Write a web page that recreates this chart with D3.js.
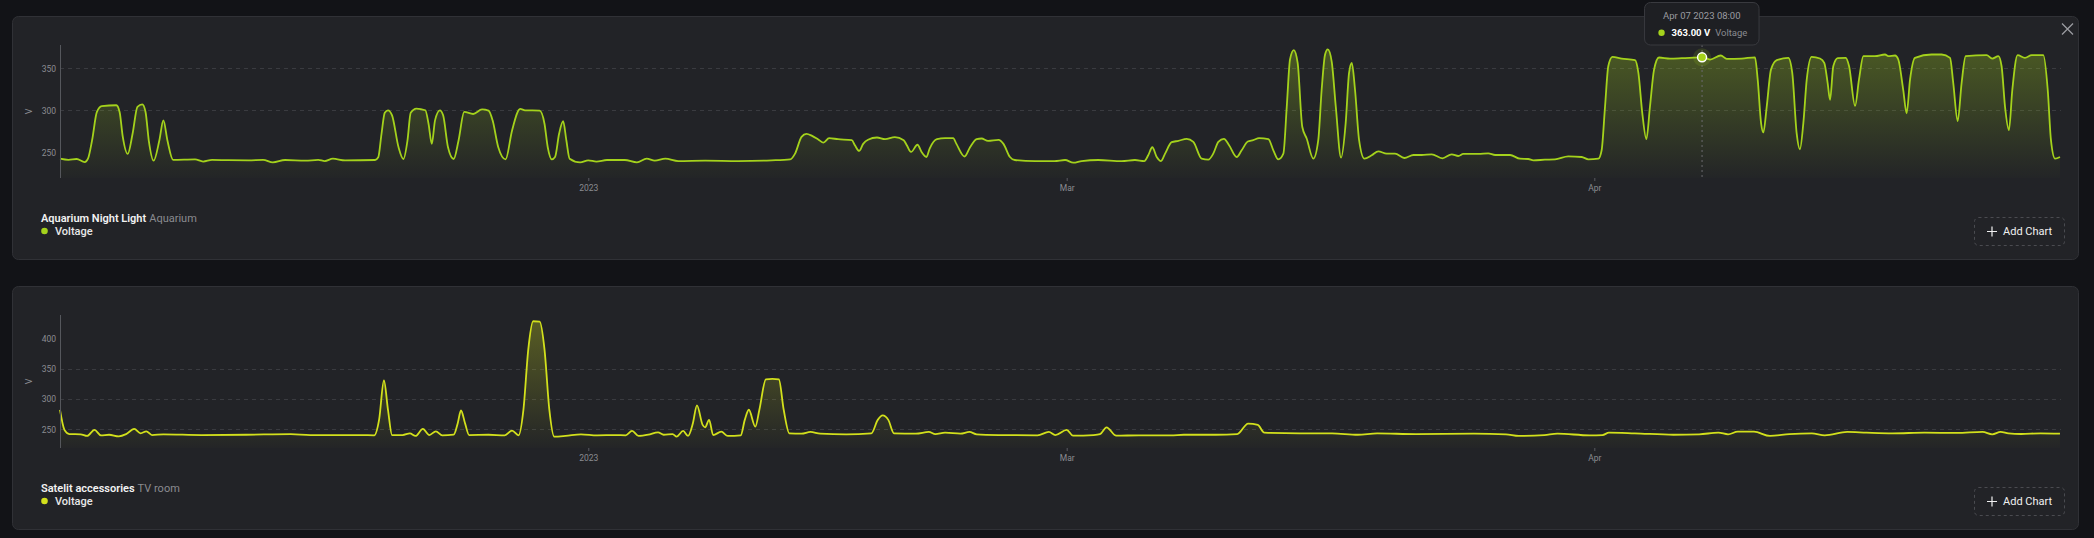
<!DOCTYPE html>
<html>
<head>
<meta charset="utf-8">
<script src="https://cdn.jsdelivr.net/npm/d3@7"></script>
<style>
  html, body { margin: 0; padding: 0; background: #121317; }
  svg { display: block; font-family: Roboto, "Noto Sans", sans-serif; }
</style>
</head>
<body>
<svg id="chart" width="2094" height="538"></svg>
<script>
// ---- DATA (x = days from 2023-01-01, y = volts) ----
const aquariumSeries = [[-65.15,242.4],[-64.1,241],[-63.1,242],[-62.1,238.4],[-61.7,242.4],[-61.2,264],[-60.6,298],[-60.0,305],[-58.2,306],[-57.8,298],[-57.4,268],[-56.8,248],[-56.2,272],[-55.6,304],[-55.0,307],[-54.6,298],[-54.2,264],[-53.6,240],[-52.9,264],[-52.4,288],[-51.9,264],[-51.2,241],[-48.5,241.6],[-47.5,239],[-46.4,241],[-44.4,240.6],[-41.9,240.4],[-40.1,241],[-38.9,238],[-37.4,240.8],[-34.9,240],[-33.3,241],[-32.5,239.6],[-31.5,242.4],[-30.0,240.4],[-26.3,240.8],[-25.9,244],[-25.5,272],[-25.1,297],[-24.7,300],[-24.2,294],[-23.4,256],[-22.8,242],[-22.3,264],[-21.9,297],[-21.2,302],[-20.1,300],[-19.7,284],[-19.3,260],[-18.9,288],[-18.3,300],[-17.9,294],[-17.3,256],[-16.6,242],[-16.0,264],[-15.3,298],[-14.2,295.6],[-13.1,301],[-12.3,299.6],[-11.8,288],[-11.1,256],[-10.2,241.6],[-9.4,276],[-8.4,301.6],[-7.8,300],[-6.0,299.6],[-5.4,284],[-5.0,256],[-4.5,241.6],[-4.1,244.4],[-3.6,272],[-3.1,287],[-2.7,264],[-2.3,242.4],[-1.0,238],[0.0,240.4],[1.0,239],[2.3,240.8],[4.5,240.8],[6.0,238],[7.2,242.4],[8.2,240],[9.5,242.4],[11.1,239.6],[14.4,240],[18.5,239.6],[22.6,240.4],[24.9,241.6],[25.5,248.4],[26.3,268.4],[26.9,272],[27.6,269.6],[28.4,265],[29.0,261.6],[29.7,266.8],[30.8,265.6],[32.5,264.4],[32.9,258],[33.4,251.6],[33.9,260],[34.5,265],[35.6,267.6],[36.6,265.6],[37.8,268],[38.9,264.4],[39.3,258],[39.8,250.4],[40.6,259],[41.1,250.4],[41.7,244.4],[42.1,254.4],[43.0,265.6],[44.0,266.8],[45.0,266.8],[45.4,260],[46.4,245],[47.1,256.4],[47.9,265.6],[48.5,266.4],[49.3,263.6],[50.6,264.8],[51.2,260],[52.0,244.4],[52.6,240.8],[55.1,239.6],[57.5,239.6],[58.8,240.8],[59.39,237.6],[59.88,239.6],[60.86,240.8],[62.23,239.6],[63.01,240.8],[63.56,239.6],[63.79,246.4],[64.03,256],[64.29,244.4],[64.54,239.6],[64.78,248.4],[65.17,262],[65.56,263.6],[66.05,266],[66.44,262.4],[66.93,242.4],[67.32,241.2],[67.61,248.4],[67.91,262.4],[68.24,266],[68.54,258.4],[68.99,244.4],[69.28,252.4],[69.64,262.8],[69.96,264.4],[70.30,266.8],[70.85,265.6],[71.14,252.4],[71.43,241.6],[71.73,248.4],[71.93,304.4],[72.12,360.4],[72.34,371.6],[72.57,356.4],[72.84,280.4],[73.10,266.4],[73.49,242.4],[73.78,264.4],[73.98,324.4],[74.18,366.4],[74.34,372.4],[74.57,358],[74.81,304.4],[75.12,243.6],[75.39,284.4],[75.59,344.4],[75.75,356.4],[75.94,324.4],[76.18,264.4],[76.49,242.4],[76.92,246.4],[77.31,251.2],[77.80,248.4],[78.29,248.4],[78.84,243.2],[79.37,246.8],[79.86,246.8],[80.45,247.6],[81.07,242.8],[81.62,247.6],[82.01,245.6],[82.30,248],[83.19,248],[83.77,248.8],[84.17,246.8],[85.05,246.8],[85.63,242.4],[86.12,242],[86.42,240.4],[87.10,241.2],[87.69,241.6],[88.47,245.2],[89.26,244.4],[89.65,241.6],[90.24,242.4],[90.43,252.4],[90.63,304.4],[90.82,352.4],[91.06,363.6],[91.61,361.6],[92.39,359.6],[92.59,344.4],[92.82,296.4],[93.06,265.6],[93.27,304.4],[93.51,348.4],[93.80,362.8],[94.45,361.6],[95.14,362],[96.33,363],[96.80,360.4],[97.43,365.2],[97.78,361.2],[98.66,361.6],[99.44,363],[99.60,336.4],[99.80,284.4],[99.93,273.6],[100.13,304.4],[100.38,348.4],[100.72,359.6],[101.40,362.4],[101.63,344.4],[101.89,272.4],[102.08,253.6],[102.28,284.4],[102.48,336.4],[102.77,363.6],[103.26,361.6],[103.51,356.4],[103.71,332.4],[103.85,312.4],[104.04,352.4],[104.30,362],[104.77,362.4],[104.97,352.4],[105.32,305.2],[105.55,336.4],[105.81,364.4],[106.49,364.4],[107.08,366.4],[107.27,364.4],[107.67,365.2],[107.86,360.4],[108.15,324.4],[108.35,296.4],[108.55,336.4],[108.84,362.4],[109.82,366.4],[110.41,366.4],[110.90,362.4],[111.09,332.4],[111.35,287.2],[111.58,332.4],[111.82,364.4],[113.05,365.6],[113.38,361.6],[113.74,364.4],[113.93,352.4],[114.13,304.4],[114.36,276.4],[114.56,324.4],[114.87,365.6],[115.30,362.4],[115.70,365.6],[116.38,365.6],[116.64,324.4],[116.83,264.4],[117.07,242.4],[117.36,244.4]];

const satelliteSeries = [[-65.15,282],[-64.6,249],[-64.0,242],[-62.6,241.7],[-61.8,239],[-60.9,249],[-60.1,240],[-59.1,241],[-57.9,238.3],[-57.0,242],[-56.0,250.5],[-55.2,243.3],[-54.5,246.7],[-53.8,240.5],[-52.4,241.7],[-47.7,240.5],[-42.2,241],[-36.7,242],[-34.3,240.5],[-28.0,240.5],[-26.4,240],[-25.8,265.5],[-25.2,330.5],[-24.7,282],[-24.2,240.5],[-22.9,240.5],[-22.0,243.3],[-21.3,239],[-20.4,250.5],[-19.6,240.5],[-18.8,246.7],[-18.0,240],[-16.6,241],[-16.1,260],[-15.7,281],[-15.2,260],[-14.7,240.5],[-12.3,241],[-10.3,240],[-9.4,247.8],[-8.6,240],[-8.0,282],[-7.4,382],[-6.8,428.3],[-6.0,427.8],[-5.4,382],[-4.8,282],[-4.2,237.8],[-2.8,239],[-0.9,241.7],[1.1,240],[3.4,240.5],[4.6,240],[5.4,247.2],[6.2,239],[7.4,241],[8.6,245],[9.3,241],[10.4,242],[10.9,237.8],[11.7,247.2],[12.3,239],[12.9,260],[13.4,289.4],[14.1,257.2],[14.4,253.3],[14.9,265.5],[15.4,240.5],[16.4,246],[17.2,239],[18.8,240],[19.3,265.5],[19.8,282.2],[20.6,254.4],[21.1,282.2],[21.9,332.2],[22.7,333.3],[23.5,332.2],[24.1,282.2],[24.8,243.3],[26.3,242.8],[27.4,245.6],[28.6,242.8],[31.8,241.7],[34.9,243.3],[35.7,265.5],[36.3,272.8],[37.0,265.5],[37.7,243.3],[40.4,242.8],[42.0,245.6],[42.8,242],[44.0,244.4],[45.9,242.8],[47.0,245.6],[47.9,241.7],[50.6,240.5],[55.4,240],[56.8,245.6],[57.6,240.5],[59.0,249],[59.37,239.4],[60.58,240.5],[60.96,242],[61.34,253.3],[61.91,239.4],[63.23,240],[65.12,240],[65.88,241],[67.77,241],[69.02,242],[69.66,259.4],[70.23,257.2],[70.61,244.4],[72.70,243.3],[74.59,243.3],[76.10,241],[77.24,243.3],[79.51,242],[82.92,242.8],[84.81,241.7],[85.56,239],[87.07,240.5],[87.83,242.8],[89.73,240],[90.48,240.5],[90.86,244.4],[92.37,243.3],[94.65,241],[96.16,241.7],[97.29,244.4],[97.86,241.7],[98.43,246],[99.38,246],[100.32,239],[101.46,242],[102.78,243.3],[103.54,240],[104.86,245.6],[106.00,244.4],[107.52,243.3],[109.41,244.4],[111.30,243.9],[112.81,245.6],[113.38,241.7],[113.87,245.6],[114.33,243.3],[115.08,242.2],[116.22,243.3],[117.36,242.8]];

const xTickDays = [0, 59, 90];
const xTickLabels = ["2023", "Mar", "Apr"];
const aquariumYTicks = [250, 300, 350];
const aquariumGrid = [300, 350];
const satelliteYTicks = [250, 300, 350, 400];
const satelliteGrid = [250, 300, 350];
const tooltipPoint = { day: 96.33, value: 363, label: "Apr 07 2023 08:00" };

// ---- DRAWING ----
const svg = d3.select("#chart");
const FONT = "Roboto, 'Noto Sans', sans-serif";
const plotLeft = 60, plotRight = 2061;
const x = d3.scaleLinear().domain([-65.15, 59, 117.42]).range([plotLeft, 1066.7, plotRight]);

const panels = [
  { oy: 0, title: "Aquarium Night Light", sub: "Aquarium", data: aquariumSeries, color: "#a4d21c",
    yDomain: [219.4, 377.7], yTicks: aquariumYTicks, grid: aquariumGrid, close: true, tooltip: tooltipPoint, id: "g1" },
  { oy: 270, title: "Satelit accessories", sub: "TV room", data: satelliteSeries, color: "#d2e01c",
    yDomain: [219.1, 438.6], yTicks: satelliteYTicks, grid: satelliteGrid, close: false, tooltip: null, id: "g2" }
];

const defs = svg.append("defs");

panels.forEach(p => {
  const g = svg.append("g").attr("transform", `translate(0,${p.oy})`);
  const top = 45, bottom = 178;
  const y = d3.scaleLinear().domain(p.yDomain).range([bottom, top]);

  // card
  g.append("rect").attr("x", 12.5).attr("y", 16.5).attr("width", 2066).attr("height", 243)
    .attr("rx", 6).attr("fill", "#222327").attr("stroke", "#303136").attr("stroke-width", 1);

  // gradient (user space of the referencing element, i.e. inside the translated group)
  const grad = defs.append("linearGradient").attr("id", p.id)
    .attr("gradientUnits", "userSpaceOnUse").attr("x1", 0).attr("x2", 0)
    .attr("y1", top).attr("y2", bottom);
  grad.append("stop").attr("offset", 0).attr("stop-color", p.color).attr("stop-opacity", 0.32);
  grad.append("stop").attr("offset", 1).attr("stop-color", p.color).attr("stop-opacity", 0.01);

  // grid
  g.append("g").selectAll("line").data(p.grid).join("line")
    .attr("x1", plotLeft).attr("x2", plotRight)
    .attr("y1", d => Math.round(y(d)) + 0.5).attr("y2", d => Math.round(y(d)) + 0.5)
    .attr("stroke", "#3a3b40").attr("stroke-dasharray", "4,4").attr("stroke-width", 1);

  // area + line
  const curve = d3.curveMonotoneX;
  g.append("path").datum(p.data)
    .attr("d", d3.area().x(d => x(d[0])).y0(bottom).y1(d => y(d[1])).curve(curve))
    .attr("fill", `url(#${p.id})`);
  g.append("path").datum(p.data)
    .attr("d", d3.line().x(d => x(d[0])).y(d => y(d[1])).curve(curve))
    .attr("fill", "none").attr("stroke", p.color).attr("stroke-width", 1.8).attr("stroke-linejoin", "round");

  // y axis
  const ya = g.append("g").attr("transform", `translate(${plotLeft},0)`)
    .call(d3.axisLeft(y).tickValues(p.yTicks).tickSize(0).tickPadding(4));
  ya.select(".domain").remove();
  ya.selectAll("text").attr("fill", "#8b8c91").attr("font-size", 8.5).attr("font-family", FONT);
  g.append("line").attr("x1", plotLeft + 0.5).attr("x2", plotLeft + 0.5).attr("y1", top).attr("y2", bottom)
    .attr("stroke", "#55575c").attr("stroke-width", 1);
  g.append("text").attr("transform", `translate(29,${(top + bottom) / 2}) rotate(-90)`)
    .attr("text-anchor", "middle").attr("dy", "0.35em").attr("fill", "#8b8c91")
    .attr("font-size", 9).attr("font-family", FONT).text("V");

  // x axis
  const xa = g.append("g").attr("transform", `translate(0,${bottom})`)
    .call(d3.axisBottom(x).tickValues(xTickDays).tickFormat((d, i) => xTickLabels[i]).tickSize(3).tickPadding(4));
  xa.select(".domain").remove();
  xa.selectAll("line").attr("stroke", "#5a5b60");
  xa.selectAll("text").attr("fill", "#8b8c91").attr("font-size", 8.5).attr("font-family", FONT);

  // legend
  const t = g.append("text").attr("x", 41).attr("y", 221.5).attr("font-size", 11).attr("font-family", FONT);
  t.append("tspan").attr("fill", "#f2f2f2").attr("font-weight", 600).text(p.title);
  t.append("tspan").attr("fill", "#8a8b90").attr("dx", 3).text(p.sub);
  g.append("circle").attr("cx", 44.5).attr("cy", 231).attr("r", 3.3).attr("fill", p.color);
  g.append("text").attr("x", 55).attr("y", 235).attr("font-size", 11).attr("font-weight", 500)
    .attr("font-family", FONT).attr("fill", "#e8e8e8").text("Voltage");

  // add chart button
  g.append("rect").attr("x", 1974.5).attr("y", 217.5).attr("width", 90).attr("height", 28).attr("rx", 4)
    .attr("fill", "none").attr("stroke", "#4a4b50").attr("stroke-dasharray", "3,3");
  g.append("path").attr("d", "M1987,231.5H1997M1992,226.5V236.5").attr("stroke", "#f0f0f0").attr("stroke-width", 1.2);
  g.append("text").attr("x", 2003).attr("y", 235).attr("font-size", 11).attr("font-family", FONT)
    .attr("fill", "#f0f0f0").text("Add Chart");

  if (p.close) {
    g.append("path").attr("d", "M2062,23.5L2073,34.5M2073,23.5L2062,34.5")
      .attr("stroke", "#9a9ba0").attr("stroke-width", 1.3);
  }

  if (p.tooltip) {
    const tx = x(p.tooltip.day), ty = y(p.tooltip.value);
    g.append("line").attr("x1", tx).attr("x2", tx).attr("y1", top).attr("y2", bottom)
      .attr("stroke", "#6a6b70").attr("stroke-dasharray", "2,3");
    g.append("circle").attr("cx", tx).attr("cy", ty).attr("r", 9).attr("fill", p.color).attr("fill-opacity", 0.15);
    g.append("circle").attr("cx", tx).attr("cy", ty).attr("r", 4.5).attr("fill", p.color)
      .attr("stroke", "#ffffff").attr("stroke-width", 1.5);
    const bx = tx - 57.5, bw = 114.5;
    g.append("rect").attr("x", bx).attr("y", 2.5).attr("width", bw).attr("height", 42.5).attr("rx", 6)
      .attr("fill", "#1e1f23").attr("stroke", "#393a3f");
    g.append("text").attr("x", bx + bw / 2).attr("y", 19).attr("text-anchor", "middle")
      .attr("font-size", 9.5).attr("font-family", FONT).attr("fill", "#9a9ba0").text(p.tooltip.label);
    g.append("circle").attr("cx", bx + 17).attr("cy", 32.8).attr("r", 3.2).attr("fill", p.color);
    const t2 = g.append("text").attr("x", bx + 27).attr("y", 36).attr("font-size", 9.5).attr("font-family", FONT);
    t2.append("tspan").attr("fill", "#ffffff").attr("font-weight", 700).text(d3.format(".2f")(p.tooltip.value) + " V");
    t2.append("tspan").attr("fill", "#8a8b90").attr("dx", 5).text("Voltage");
  }
});
</script>
</body>
</html>
